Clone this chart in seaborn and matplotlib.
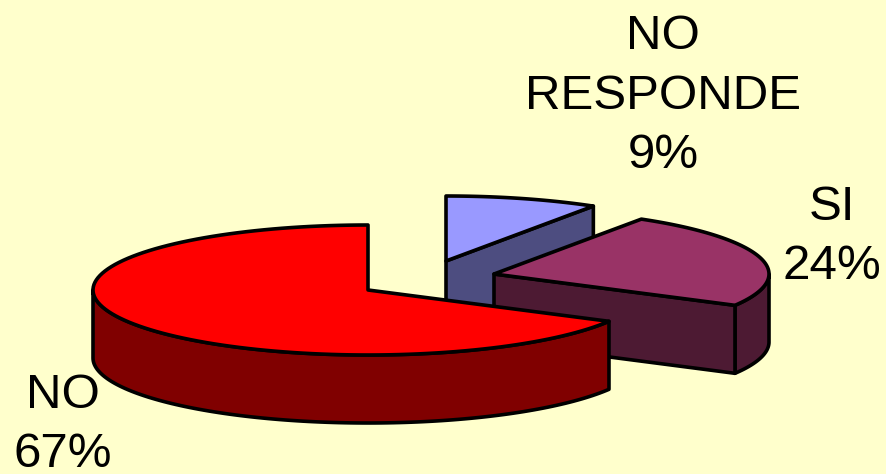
import numpy as np
import matplotlib
matplotlib.use("Agg")
import matplotlib.pyplot as plt
from matplotlib.patches import Polygon
import seaborn as sns

# Slices start at 12 o'clock and go counter-clockwise
categories = ["NO", "SI", "NO RESPONDE"]
shares = [67, 24, 9]

top_colors = ["#FF0000", "#993366", "#9999FF"]
side_colors = ["#800000", "#4D1A33", "#4D4D80"]

# apex of each exploded slice, in pixels
apex_x = [368, 494, 446]
apex_y = [290, 274, 261]
label_x = [63, 832, 663]
label_y = [425, 237, 96]

RX, RY, DEPTH = 275, 65, 68
LW = 2.6

sns.set_theme(style="white")
plt.rcParams["font.family"] = ["Liberation Sans", "DejaVu Sans"]

BG = "#FFFFCC"
fig, ax = plt.subplots(figsize=(8.87, 4.74), dpi=100, facecolor=BG)
ax.set_position([0, 0, 1, 1])
ax.set_xlim(0, 887)
ax.set_ylim(474, 0)
ax.axis("off")


def rim(cx, cy, a0, a1, drop=0):
    t = np.radians(np.linspace(a0, a1, 120))
    return np.column_stack([cx - RX * np.sin(t), cy - RY * np.cos(t) + drop])


def face(pts, color, z):
    ax.add_patch(Polygon(pts, closed=True, facecolor=color, edgecolor="black",
                         linewidth=LW, joinstyle="round", zorder=z))


angles = np.concatenate([[0], np.cumsum(shares) / np.sum(shares) * 360])

# back slices first so the red one sits on top
for i in [2, 1, 0]:
    cx, cy = apex_x[i], apex_y[i]
    a0, a1 = angles[i], angles[i + 1]
    z = 10 - i * 3
    apex = np.array([[cx, cy]])

    # outer wall, only the part facing the viewer (90..270)
    lo, hi = max(a0, 90), min(a1, 270)
    if lo < hi:
        face(np.vstack([rim(cx, cy, lo, hi), rim(cx, cy, hi, lo, DEPTH)]), side_colors[i], z)

    # the starting cut of SI and NO RESPONDE faces the viewer
    if i > 0:
        edge = rim(cx, cy, a0, a0)[[0]]
        face(np.vstack([apex, edge, edge + [0, DEPTH], apex + [0, DEPTH]]), side_colors[i], z)

    face(np.vstack([apex, rim(cx, cy, a0, a1)]), top_colors[i], z + 1)

    name = categories[i].replace(" ", "\n")
    ax.text(label_x[i], label_y[i], f"{name}\n{shares[i]}%", ha="center", va="center",
            fontsize=35.5, color="black", linespacing=1.42, zorder=20)

fig.savefig("out.png", dpi=100, facecolor=BG)
